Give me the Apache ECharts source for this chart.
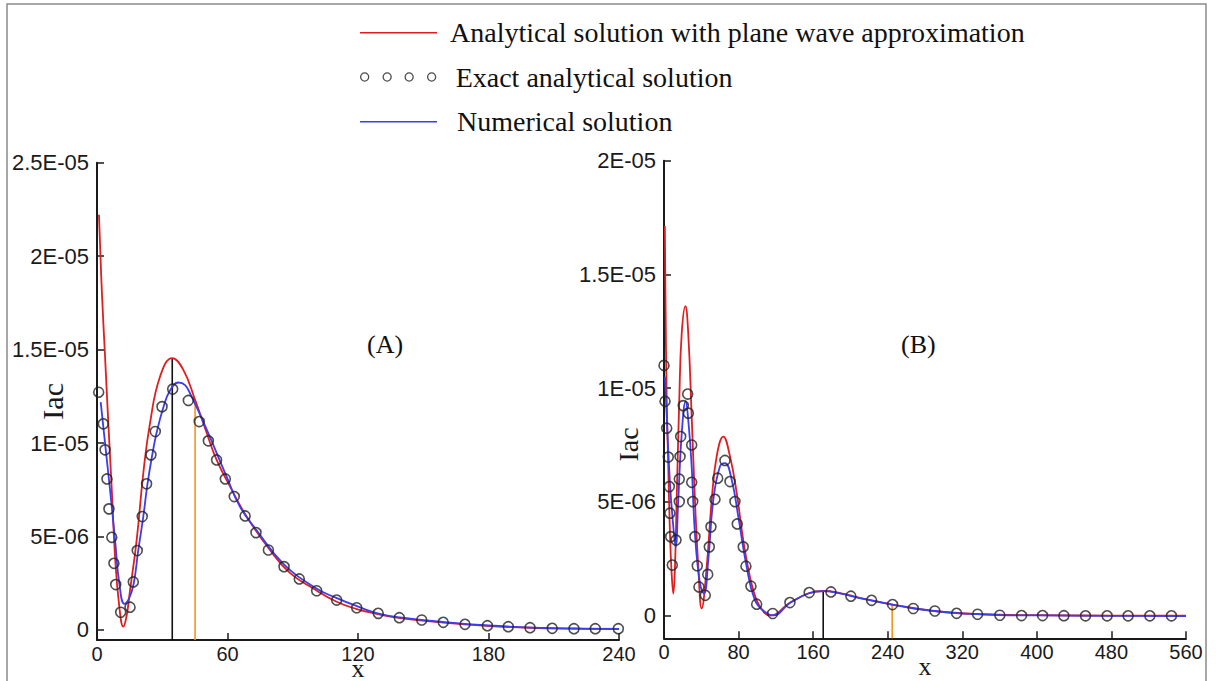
<!DOCTYPE html>
<html><head><meta charset="utf-8">
<script src="https://cdn.jsdelivr.net/npm/echarts@6/dist/echarts.min.js"></script>
<style>html,body{margin:0;padding:0;background:#fff}#c{width:1216px;height:681px}</style>
</head><body><div id="c"></div>
<script>
// ---------- data ----------
const seriesNames = ['Analytical solution with plane wave approximation', 'Exact analytical solution', 'Numerical solution'];
const panelLabels = ['(A)', '(B)'];
const axisNames = { x: 'x', y: 'Iac' };

const xTicksA = [0, 60, 120, 180, 240];
const xTickLabelsA = ['0', '60', '120', '180', '240'];
const yTicksA = [0, 5e-6, 1e-5, 1.5e-5, 2e-5, 2.5e-5];
const yTickLabelsA = ['0', '5E-06', '1E-05', '1.5E-05', '2E-05', '2.5E-05'];
const xTicksB = [0, 80, 160, 240, 320, 400, 480, 560];
const xTickLabelsB = ['0', '80', '160', '240', '320', '400', '480', '560'];
const yTicksB = [0, 5e-6, 1e-5, 1.5e-5, 2e-5];
const yTickLabelsB = ['0', '5E-06', '1E-05', '1.5E-05', '2E-05'];

// Panel A
const redA = [[0.9,2.222e-5],[2.2,1.82e-5],[3.7,1.463e-5],[5.2,1.108e-5],[6.8,7.49e-6],[8.3,3.92e-6],[10.25,1.25e-6],[12.1,1.8e-7],[13.6,7.5e-7],[15.2,2.14e-6],[18.25,4.82e-6],[21.3,8.4e-6],[24.4,1.108e-5],[29.0,1.356e-5],[34.6,1.455e-5],[39.7,1.392e-5],[45.1,1.231e-5],[50.4,1.055e-5],[55.0,9.1e-6],[61.2,7.67e-6],[68.8,6.07e-6],[79.5,4.28e-6],[88.8,3.04e-6],[99.3,2.23e-6],[110.2,1.51e-6],[119.4,1.12e-6],[128.6,8.6e-7],[139.3,6.4e-7],[159.1,4.0e-7],[179.3,2.25e-7],[199.1,1.2e-7],[219.3,7e-8],[240,5e-8]];
const exactA = [[0.77,1.272e-5],[2.9,1.103e-5],[3.7,9.64e-6],[4.6,8.08e-6],[5.5,6.48e-6],[6.8,4.96e-6],[7.8,3.57e-6],[8.6,2.43e-6],[10.9,9.5e-7],[15.2,1.22e-6],[16.7,2.57e-6],[18.5,4.25e-6],[20.8,6.07e-6],[22.8,7.82e-6],[24.8,9.37e-6],[26.8,1.062e-5],[29.9,1.195e-5],[34.8,1.289e-5],[42,1.228e-5],[47,1.115e-5],[51.2,1.012e-5],[55,9.1e-6],[59,8.08e-6],[63.1,7.14e-6],[68.1,6.1e-6],[73.1,5.21e-6],[78.8,4.28e-6],[86,3.39e-6],[93,2.73e-6],[101,2.1e-6],[110.2,1.6e-6],[119.4,1.19e-6],[129.3,8.9e-7],[139,6.6e-7],[149.3,5.35e-7],[159.2,4.1e-7],[169.2,3.05e-7],[179.5,2.3e-7],[189.1,1.77e-7],[199.1,1.23e-7],[209.3,9e-8],[219.3,7e-8],[229.1,7e-8],[239.7,7e-8]];
const numA = [[1.7,1.219e-5],[3.7,1.0e-5],[6.0,7.49e-6],[8.3,4.82e-6],[10.25,2.5e-6],[12.6,1.4e-6],[14.8,1.7e-6],[16.9,2.5e-6],[18.9,4.2e-6],[21.2,6.0e-6],[23.2,7.8e-6],[25.3,9.3e-6],[27.4,1.055e-5],[30.5,1.19e-5],[33.5,1.28e-5],[37.4,1.324e-5],[40.5,1.31e-5],[43,1.26e-5],[47.5,1.15e-5],[52,1.03e-5],[59.6,8.2e-6],[65.7,6.6e-6],[73.3,5.35e-6],[85.5,3.57e-6],[100.7,2.23e-6],[110,1.72e-6],[119.4,1.28e-6],[129,8.9e-7],[139.3,6.7e-7],[160,4.2e-7],[180,2.4e-7],[200,1.3e-7],[220,8e-8],[240,6e-8]];
const vlineBlackA = [34.6, 1.455e-5];
const vlineOrangeA = [45.1, 1.231e-5];

// Panel B
const redB = [[0.9,1.713e-5],[1.6,1.39e-5],[2.9,9.5e-6],[4.6,6.55e-6],[6.4,3.6e-6],[8.2,1.85e-6],[10,9.7e-7],[11.8,2.2e-6],[13.6,5.1e-6],[16.4,9.5e-6],[19,1.24e-5],[23,1.36e-5],[26,1.24e-5],[29.7,8.76e-6],[33.2,5.08e-6],[36.8,2.14e-6],[40.4,3.1e-7],[45.8,2.14e-6],[51.2,5.08e-6],[56.5,7.0e-6],[63.6,7.87e-6],[70.8,7.0e-6],[78,5.38e-6],[85,3.32e-6],[92.2,1.7e-6],[99.4,6.7e-7],[108.3,9e-8],[114,0],[135,5.6e-7],[155,9.8e-7],[171,1.08e-6],[190,9.8e-7],[210,7.8e-7],[245,4.85e-7],[290,2.0e-7],[340,6e-8],[400,1.5e-8],[480,0],[560,0]];
const exactB = [[0,1.1e-5],[1.1,9.42e-6],[2.9,8.24e-6],[4.6,6.97e-6],[5.7,5.67e-6],[6.4,4.5e-6],[7.2,3.47e-6],[8.9,2.22e-6],[12.9,3.32e-6],[16.4,5.01e-6],[16.4,6.0e-6],[17.2,6.99e-6],[17.9,7.87e-6],[20.7,9.23e-6],[25.4,9.74e-6],[26.1,8.9e-6],[29.7,7.5e-6],[29.7,5.86e-6],[30.8,5.01e-6],[33.2,3.47e-6],[35.7,2.19e-6],[37.5,1.26e-6],[44.3,8.9e-7],[46.9,1.81e-6],[48.6,3.02e-6],[50.4,3.9e-6],[54.7,5.11e-6],[57.6,6.04e-6],[65.4,6.82e-6],[70.8,5.89e-6],[76.1,5.01e-6],[78.6,4.03e-6],[85,3.02e-6],[87.9,2.17e-6],[93.3,1.29e-6],[99.4,5e-7],[116.6,9e-8],[135.1,5.7e-7],[155.8,1.01e-6],[179.1,1.04e-6],[200.5,8.5e-7],[222.7,6.7e-7],[245.2,4.85e-7],[267.4,3.1e-7],[290.6,2.0e-7],[313.9,1.0e-7],[336.4,5.7e-8],[360.3,1.3e-8],[383.6,0],[406.1,0],[429,-5e-9],[452.2,-1e-8],[475.4,-1e-8],[497.9,-1e-8],[521.2,-1e-8],[544.4,-1e-8]];
const numB = [[1.07,1.05e-5],[2.9,8.76e-6],[6.4,5.82e-6],[10,3.9e-6],[12.5,3.02e-6],[15.3,5.08e-6],[19,8.0e-6],[23.3,9.42e-6],[26,8.6e-6],[29.7,6.55e-6],[33.2,3.6e-6],[38.6,1.41e-6],[42.9,9.7e-7],[47.5,2.44e-6],[52.9,5.08e-6],[60,6.55e-6],[65.4,6.7e-6],[72.6,5.97e-6],[79.7,4.35e-6],[88.7,2.14e-6],[97.6,6.7e-7],[108.3,1.6e-7],[117,1e-8],[135,5.5e-7],[155,9.7e-7],[171,1.07e-6],[190,9.6e-7],[210,7.7e-7],[245,4.8e-7],[268,3.1e-7],[290,2.0e-7],[314,1.1e-7],[336,6e-8],[360,2e-8],[400,5e-9],[480,-1e-8],[560,-2e-8]];
const vlineBlackB = [170.8, 1.08e-6];
const vlineOrangeB = [244.8, 4.85e-7];

// ---------- styles ----------
const RED = '#e01e1e', BLUE = '#3c3cf2', ORANGE = '#f7931e', AX = '#1a1a1a';
const yMinA = -0.535e-6, yMaxA = 2.5e-5, yMinB = -1.0e-6, yMaxB = 2e-5;

function fmt(ticks, labels) {
  return v => { const i = ticks.findIndex(t => Math.abs(t - v) < 1e-12 * Math.max(1, Math.abs(t))); return i >= 0 ? labels[i] : ''; };
}
function xAxisCfg(gi, ticks, labels) {
  return {
    type: 'value', gridIndex: gi, min: ticks[0], max: ticks[ticks.length - 1], interval: ticks[1] - ticks[0],
    name: axisNames.x, nameLocation: 'middle', nameGap: 21, nameMoveOverlap: false,
    nameTextStyle: { fontFamily: 'Liberation Serif', fontSize: 26, lineHeight: 14, color: AX },
    axisLine: { onZero: false, lineStyle: { color: AX, width: 2 } },
    axisTick: { inside: true, length: 7, lineStyle: { color: AX, width: 1.5 } },
    axisLabel: { fontFamily: 'Liberation Sans', fontSize: 20, lineHeight: 14, color: AX, margin: 7, formatter: fmt(ticks, labels) },
    splitLine: { show: false }
  };
}
function yAxisCfg(gi, ticks, labels, min, max, nameGap, nameSize, namePad) {
  return {
    type: 'value', gridIndex: gi, min: min, max: max,
    name: axisNames.y, nameLocation: 'middle', nameRotate: 90, nameGap: nameGap, nameMoveOverlap: false,
    nameTextStyle: { fontFamily: 'Liberation Serif', fontSize: nameSize, color: AX, padding: namePad },
    axisLine: { show: true, onZero: false, lineStyle: { color: AX, width: 2 } },
    axisTick: { show: true, inside: true, length: 7, customValues: ticks, lineStyle: { color: AX, width: 1.5 } },
    axisLabel: { fontFamily: 'Liberation Sans', fontSize: 22, color: AX, margin: 8, customValues: ticks, formatter: fmt(ticks, labels) },
    splitLine: { show: false }
  };
}
function curve(name, data, color, gi) {
  return { type: 'line', name: name, xAxisIndex: gi, yAxisIndex: gi, data: data, showSymbol: false, symbol: 'none',
    smooth: 0.45, lineStyle: { color: color, width: 1.8 }, itemStyle: { color: color }, z: 3 };
}
function circles(name, data, gi) {
  return { type: 'scatter', name: name, xAxisIndex: gi, yAxisIndex: gi, data: data, symbol: 'circle', symbolSize: 10,
    itemStyle: { color: 'rgba(0,0,0,0)', borderColor: '#222', borderWidth: 1.6 }, z: 4 };
}
function vline(name, pt, ymin, color, gi) {
  return { type: 'line', name: name, xAxisIndex: gi, yAxisIndex: gi, data: [[pt[0], ymin], [pt[0], pt[1]]],
    showSymbol: false, symbol: 'none', lineStyle: { color: color, width: 1.6 }, z: 2 };
}
const circlesIcon = 'path://M0,4A4,4,0,1,1,8,4A4,4,0,1,1,0,4Z M22.4,4A4,4,0,1,1,30.4,4A4,4,0,1,1,22.4,4Z M44.3,4A4,4,0,1,1,52.3,4A4,4,0,1,1,44.3,4Z M66.7,4A4,4,0,1,1,74.7,4A4,4,0,1,1,66.7,4Z';
const lineIcon = 'path://M0,0H100V2H0Z';
const legendText = { fontFamily: 'Liberation Serif', fontSize: 28, color: '#111', lineHeight: 30 };
function legendCfg(top, item, pad, w) {
  return { show: true, orient: 'vertical', left: 360, top: top, itemWidth: w, itemHeight: 30, selectedMode: false,
    padding: 0, data: [item], textStyle: Object.assign({}, legendText, { padding: [0, 0, 0, pad] }) };
}

const chart = echarts.init(document.getElementById('c'), null, { renderer: 'svg', width: 1216, height: 681 });
chart.setOption({
  animation: false,
  backgroundColor: '#ffffff',
  grid: [
    { left: 97, top: 162.7, width: 522, height: 477.3, containLabel: false, outerBoundsMode: 'none' },
    { left: 664, top: 160.7, width: 522, height: 477.6, containLabel: false, outerBoundsMode: 'none' }
  ],
  xAxis: [xAxisCfg(0, xTicksA, xTickLabelsA), xAxisCfg(1, xTicksB, xTickLabelsB)],
  yAxis: [
    yAxisCfg(0, yTicksA, yTickLabelsA, yMinA, yMaxA, 30, 30, [0, 0, 0, 0]),
    yAxisCfg(1, yTicksB, yTickLabelsB, yMinB, yMaxB, 22, 28, [0, 90, 0, 0])
  ],
  legend: [
    legendCfg(17.7, { name: seriesNames[0], icon: lineIcon, itemStyle: { color: RED, borderWidth: 0 } }, 8, 77),
    legendCfg(62, { name: seriesNames[1], icon: circlesIcon, itemStyle: { color: 'rgba(0,0,0,0)', borderColor: '#222', borderWidth: 1.3 } }, 15, 75),
    legendCfg(106.7, { name: seriesNames[2], icon: lineIcon, itemStyle: { color: BLUE, borderWidth: 0 } }, 15, 77)
  ],
  graphic: [
    { type: 'rect', silent: true, z: -1, shape: { x: 7, y: 4, width: 1199, height: 700 }, style: { fill: 'none', stroke: '#8a8a8a', lineWidth: 1.5 } },
    { type: 'text', left: 367, top: 331, style: { text: panelLabels[0], font: '26px "Liberation Serif"', fill: '#111' } },
    { type: 'text', left: 901, top: 331, style: { text: panelLabels[1], font: '26px "Liberation Serif"', fill: '#111' } }
  ],
  series: [
    vline('refA1', vlineBlackA, yMinA, '#111', 0),
    vline('refA2', vlineOrangeA, yMinA, ORANGE, 0),
    vline('refB1', vlineBlackB, yMinB, '#111', 1),
    vline('refB2', vlineOrangeB, yMinB, ORANGE, 1),
    curve(seriesNames[0], redA, RED, 0),
    curve(seriesNames[2], numA, BLUE, 0),
    circles(seriesNames[1], exactA, 0),
    curve(seriesNames[0], redB, RED, 1),
    curve(seriesNames[2], numB, BLUE, 1),
    circles(seriesNames[1], exactB, 1)
  ]
});
</script>
</body></html>
